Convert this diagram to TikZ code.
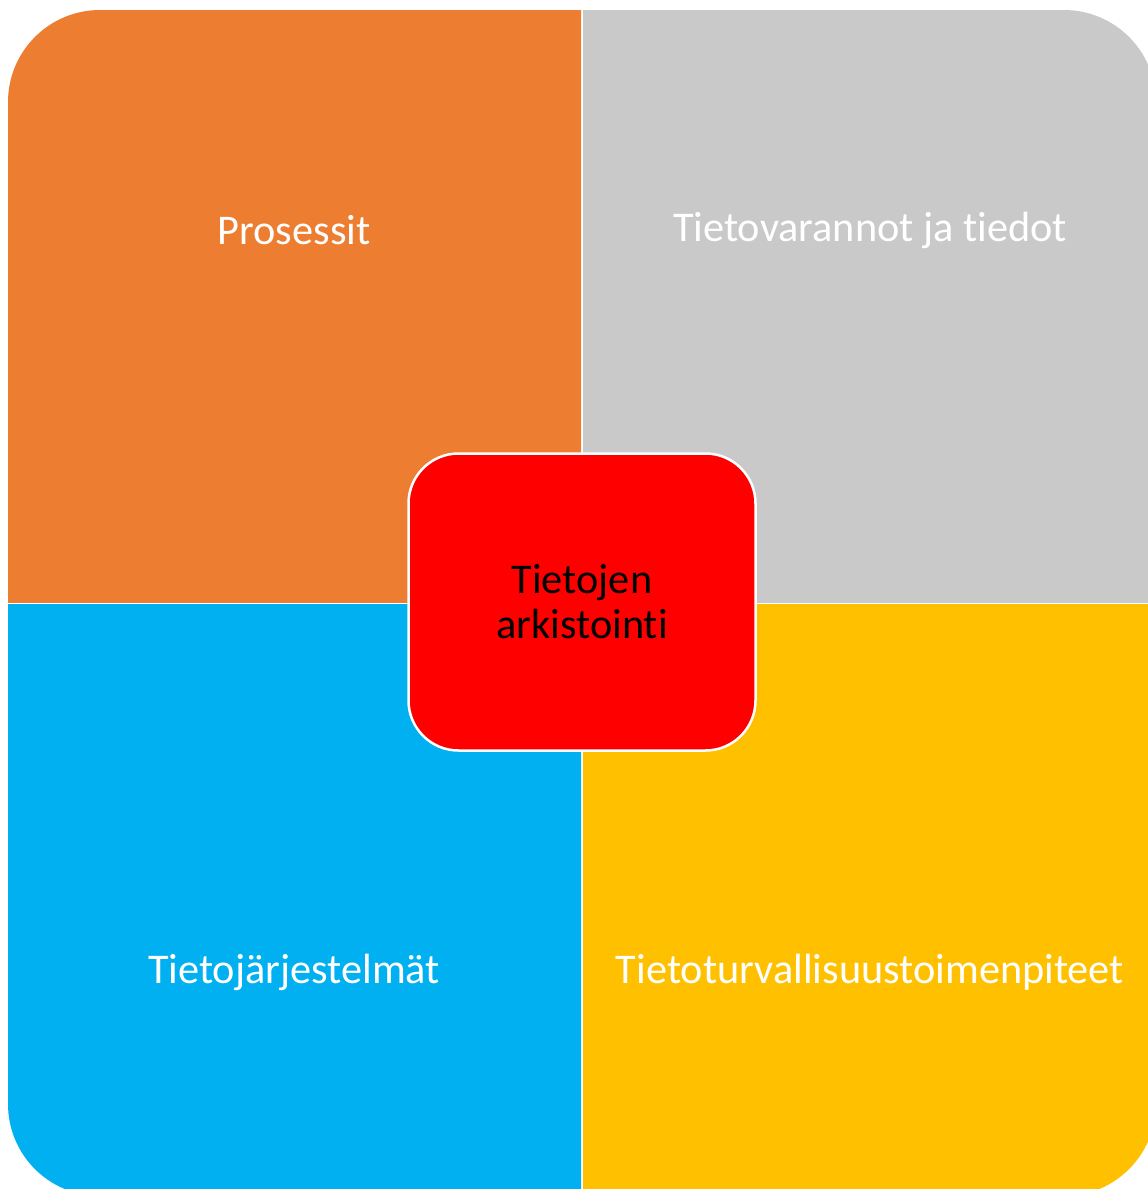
\documentclass[tikz,border=0pt]{standalone}
\usepackage{fontspec}
\setmainfont[Ligatures=NoCommon]{Carlito}
\usetikzlibrary{positioning}
\definecolor{prosOrange}{HTML}{ED7D31}
\definecolor{varaGray}{HTML}{C9C9C9}
\definecolor{jarjBlue}{HTML}{00B0F0}
\definecolor{turvaYellow}{HTML}{FFC000}
\tikzset{
  quadfill/.style={fill=#1, rounded corners=92pt},
  quadlabel/.style={text=white, font=\fontsize{42.3}{46}\selectfont},
  hub/.style={fill=red, draw=white, line width=2.5pt, rounded corners=50pt,
    minimum width=347pt, minimum height=297pt, align=center,
    font=\fontsize{42.3}{45}\selectfont}
}
\begin{document}
\begin{tikzpicture}[x=1pt, y=-1pt]
\useasboundingbox (0,0) rectangle (1148,1189);
\clip (0,0) rectangle (1148,1189);
% quadrants: one big rounded square, cut into four
\begin{scope}
  \clip (0,0) rectangle (581,602);
  \fill[quadfill=prosOrange] (8,10) rectangle (1156,1196);
\end{scope}
\begin{scope}
  \clip (583,0) rectangle (1200,602);
  \fill[quadfill=varaGray] (8,10) rectangle (1156,1196);
\end{scope}
\begin{scope}
  \clip (0,604) rectangle (581,1200);
  \fill[quadfill=jarjBlue] (8,10) rectangle (1156,1196);
\end{scope}
\begin{scope}
  \clip (583,604) rectangle (1200,1200);
  \fill[quadfill=turvaYellow] (8,10) rectangle (1156,1196);
\end{scope}
\node[quadlabel] (prosessit) at (294,230) {Prosessit};
\node[quadlabel] (tietovarannot) at (870,230) {Tietovarannot ja tiedot};
\node[quadlabel] (jarjestelmat) at (294,972) {Tietojärjestelmät};
\node[quadlabel] (turvallisuus) at (870,972) {Tietoturvallisuustoimenpiteet};
% center
\node[hub] (arkistointi) at (582,602) {Tietojen\\arkistointi};
\end{tikzpicture}
\end{document}
